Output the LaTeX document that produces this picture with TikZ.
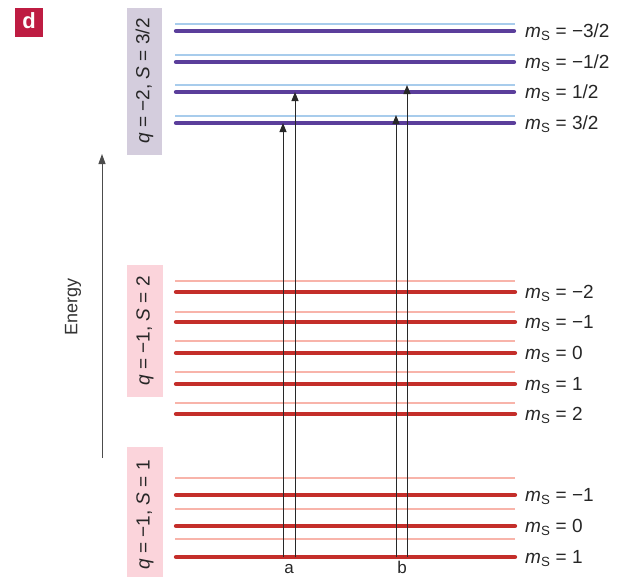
\documentclass[tikz,border=0pt]{standalone}
\usepackage{fontspec}
\setmainfont{Liberation Sans}
\usetikzlibrary{arrows.meta}
\definecolor{dbox}{RGB}{190,28,66}
\definecolor{lav}{RGB}{212,205,221}
\definecolor{pinkbox}{RGB}{251,212,219}
\definecolor{purp}{RGB}{91,62,155}
\definecolor{lblue}{RGB}{168,204,236}
\definecolor{dred}{RGB}{196,46,42}
\definecolor{lred}{RGB}{248,180,170}
\definecolor{arr}{RGB}{40,40,40}
\newcommand\msl[1]{\textit{m}\textsubscript{S} = #1}
\tikzset{
  thickp/.style={purp, line width=4.3pt, line cap=round},
  thinb/.style={lblue, line width=1.3pt},
  thickr/.style={dred, line width=4.3pt, line cap=round},
  thinr/.style={lred, line width=1.3pt},
  lab/.style={anchor=base west, font=\fontsize{19}{21}\selectfont, inner sep=0pt, text=black!85},
  trans/.style={arr, line width=1pt, -{Triangle[length=9pt,width=7pt]}},
  sidelab/.style={rotate=90, font=\fontsize{19}{21}\selectfont, inner sep=0pt, text=black!85},
}
\begin{document}
\begin{tikzpicture}[x=1pt,y=-1pt]
\useasboundingbox (0,0) rectangle (629,576);
% panel letter
\fill[dbox] (15,8) rectangle (43,37);
\node[text=white, font=\fontsize{22}{24}\selectfont\bfseries] (dlab) at (29,21) {d};
% side boxes
\fill[lav] (127,8) rectangle (162,155);
\node[sidelab] (s32) at (144.5,81) {\textit{q} = −2, \textit{S} = 3/2};
\fill[pinkbox] (127,265) rectangle (163,397);
\node[sidelab] (s2) at (145,331) {\textit{q} = −1, \textit{S} = 2};
\fill[pinkbox] (127,447) rectangle (163,590);
\node[sidelab] (s1) at (145,515) {\textit{q} = −1, \textit{S} = 1};
% energy axis
\coordinate (eB) at (102,458);
\coordinate (eT) at (102,154);
\draw[black!70, line width=1pt, -{Triangle[length=10pt,width=7pt]}] (eB) -- (eT);
\node[rotate=90, font=\fontsize{18}{20}\selectfont, text=black!80] (energy) at (73,307) {Energy};
% S=3/2 levels
\foreach \n/\yt/\yk/\t in {p1/24/31/{−3/2}, p2/55/62/{−1/2}, p3/85/92/{1/2}, p4/116/123/{3/2}}{
  \coordinate (\n tl) at (175,\yt); \coordinate (\n tr) at (515,\yt);
  \coordinate (\n kl) at (176,\yk); \coordinate (\n kr) at (514,\yk);
  \draw[thinb] (\n tl) -- (\n tr);
  \draw[thickp] (\n kl) -- (\n kr);
  \node[lab] (\n lab) at (525,\yk+6) {\msl{\t}};
}
% S=2 levels
\foreach \n/\yt/\yk/\t in {r1/281/292/{−2}, r2/312/322/{−1}, r3/341/353/{0}, r4/372/384/{1}, r5/403/414/{2}}{
  \coordinate (\n tl) at (175,\yt); \coordinate (\n tr) at (515,\yt);
  \coordinate (\n kl) at (176,\yk); \coordinate (\n kr) at (515,\yk);
  \draw[thinr] (\n tl) -- (\n tr);
  \draw[thickr] (\n kl) -- (\n kr);
  \node[lab] (\n lab) at (525,\yk+6) {\msl{\t}};
}
% S=1 levels
\foreach \n/\yt/\yk/\t in {g1/478/495/{−1}, g2/509/526/{0}, g3/539/557/{1}}{
  \coordinate (\n tl) at (175,\yt); \coordinate (\n tr) at (515,\yt);
  \coordinate (\n kl) at (176,\yk); \coordinate (\n kr) at (515,\yk);
  \draw[thinr] (\n tl) -- (\n tr);
  \draw[thickr] (\n kl) -- (\n kr);
  \node[lab] (\n lab) at (525,\yk+6) {\msl{\t}};
}
% transitions
\coordinate (a1s) at (283,557); \coordinate (a1e) at (283,123);
\coordinate (a2s) at (295,557); \coordinate (a2e) at (295,92);
\coordinate (b1s) at (396,557); \coordinate (b1e) at (396,115);
\coordinate (b2s) at (407,557); \coordinate (b2e) at (407,85);
\draw[trans] (a1s) -- (a1e);
\draw[trans] (a2s) -- (a2e);
\draw[trans] (b1s) -- (b1e);
\draw[trans] (b2s) -- (b2e);
\node[anchor=base, font=\fontsize{17}{19}\selectfont, inner sep=0pt, text=black!85] (alab) at (289,573) {a};
\node[anchor=base, font=\fontsize{17}{19}\selectfont, inner sep=0pt, text=black!85] (blab) at (402,573) {b};
\end{tikzpicture}
\end{document}
